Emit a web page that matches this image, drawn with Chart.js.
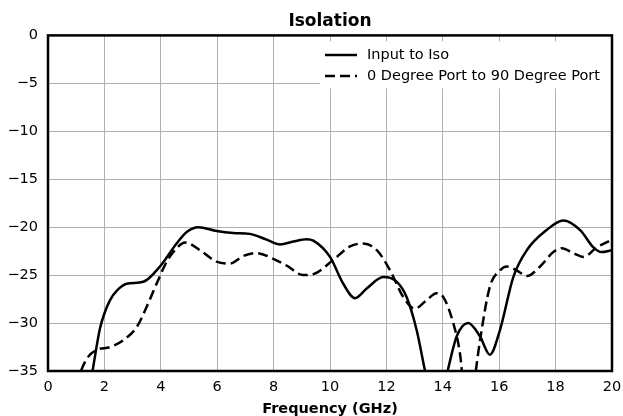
<!DOCTYPE html>
<html>
<head>
<meta charset="utf-8">
<script src="https://cdn.jsdelivr.net/npm/chart.js@4"></script>
<style>
  html, body { margin: 0; padding: 0; background: #fff; }
  #wrap { width: 623px; height: 416px; }
</style>
</head>
<body>
<div id="wrap"><canvas id="chart" width="623" height="416"></canvas></div>
<script>
const seriesNames = ["Input to Iso", "0 Degree Port to 90 Degree Port"];

// Input to Iso
const isoFreq = [1.35, 1.58, 1.84, 2.0, 2.2, 2.45, 2.79, 3.38, 3.97, 4.56, 4.92, 5.33, 5.98, 6.57, 7.16, 7.75, 8.23, 8.7, 9.17, 9.41, 10.0, 10.47, 10.89, 11.3, 11.89, 12.37, 12.72, 13.07, 13.37, 13.75, 14.17, 14.49, 14.9, 15.32, 15.67, 16.03, 16.5, 16.98, 17.68, 18.27, 18.87, 19.34, 19.63, 20.0];
const isoDb = [-39, -35, -30.6, -29.0, -27.6, -26.6, -25.9, -25.7, -24.1, -21.7, -20.5, -20.0, -20.4, -20.6, -20.7, -21.3, -21.8, -21.5, -21.25, -21.4, -23.1, -25.9, -27.4, -26.4, -25.2, -25.7, -27.3, -30.7, -35, -40, -35, -31.4, -30.0, -31.4, -33.3, -30.7, -25.2, -22.4, -20.3, -19.3, -20.3, -22.1, -22.6, -22.4];

// 0 Degree Port to 90 Degree Port
const portFreq = [0.9, 1.17, 1.43, 1.73, 2.2, 2.67, 3.15, 3.5, 3.85, 4.21, 4.56, 4.86, 5.39, 5.98, 6.45, 6.93, 7.4, 7.99, 8.46, 9.05, 9.41, 10.12, 10.71, 11.18, 11.66, 12.13, 12.6, 13.01, 13.43, 13.78, 14.02, 14.37, 14.61, 14.9, 15.17, 15.32, 15.67, 16.03, 16.27, 16.62, 16.98, 17.45, 17.92, 18.22, 18.63, 18.99, 19.46, 20.0];
const portDb = [-38, -35, -33.5, -32.8, -32.5, -31.8, -30.4, -28.3, -25.9, -23.6, -22.2, -21.6, -22.4, -23.6, -23.8, -23.0, -22.7, -23.3, -24.0, -25.0, -24.9, -23.4, -22.0, -21.7, -22.4, -24.5, -27.3, -28.5, -27.6, -26.9, -27.3, -30.0, -33.2, -41, -35, -31.8, -26.2, -24.5, -24.1, -24.5, -25.1, -24.1, -22.6, -22.2, -22.7, -23.1, -22.1, -21.3];

const xTicks = [0, 2, 4, 6, 8, 10, 12, 14, 16, 18, 20];
const yTicks = [0, -5, -10, -15, -20, -25, -30, -35];

const FONT = "'DejaVu Sans', sans-serif";

function toPoints(xs, ys) {
  return xs.map((x, i) => ({ x: x, y: ys[i] }));
}

// legend drawn inside the plot, top right
const insideLegend = {
  id: "insideLegend",
  afterDatasetsDraw(chart) {
    const ctx = chart.ctx;
    const area = chart.chartArea;
    ctx.save();
    ctx.fillStyle = "#fff";
    ctx.fillRect(320, area.top + 6, area.right - 320, 47);
    ctx.font = "14.5px " + FONT;
    ctx.textBaseline = "middle";
    chart.data.datasets.forEach((ds, i) => {
      const y = 55 + i * 21;
      ctx.strokeStyle = "#000";
      ctx.lineWidth = 2.5;
      ctx.setLineDash(ds.borderDash || []);
      ctx.beginPath();
      ctx.moveTo(325, y);
      ctx.lineTo(357, y);
      ctx.stroke();
      ctx.setLineDash([]);
      ctx.fillStyle = "#000";
      ctx.fillText(ds.label, 367, y);
    });
    ctx.restore();
  }
};

const frame = {
  id: "frame",
  afterDraw(chart) {
    const ctx = chart.ctx;
    const a = chart.chartArea;
    ctx.save();
    ctx.strokeStyle = "#000";
    ctx.lineWidth = 2.5;
    ctx.strokeRect(a.left, a.top, a.right - a.left, a.bottom - a.top);
    ctx.restore();
  }
};

new Chart(document.getElementById("chart"), {
  type: "line",
  data: {
    datasets: [
      {
        label: seriesNames[0],
        data: toPoints(isoFreq, isoDb),
        borderColor: "#000",
        borderWidth: 2.5,
        pointRadius: 0,
        cubicInterpolationMode: "monotone",
        clip: 0
      },
      {
        label: seriesNames[1],
        data: toPoints(portFreq, portDb),
        borderColor: "#000",
        borderWidth: 2.5,
        borderDash: [10, 5],
        pointRadius: 0,
        cubicInterpolationMode: "monotone",
        clip: 0
      }
    ]
  },
  options: {
    responsive: false,
    animation: false,
    layout: { padding: { left: 0, right: 11, top: 0, bottom: 0 } },
    plugins: {
      legend: { display: false },
      tooltip: { enabled: false },
      title: {
        display: true,
        text: "Isolation",
        fullSize: false,
        color: "#000",
        font: { family: FONT, size: 17, weight: "bold" },
        padding: { top: 11, bottom: 4 }
      }
    },
    scales: {
      x: {
        type: "linear",
        min: 0,
        max: 20,
        afterFit(scale) {
          scale.height = 45;
          scale.paddingLeft = 0;
          scale.paddingRight = 0;
        },
        afterBuildTicks(scale) { scale.ticks = xTicks.map(v => ({ value: v })); },
        grid: { color: "#b0b0b0", lineWidth: 1, drawTicks: false },
        border: { display: false },
        ticks: { color: "#000", padding: 8, maxRotation: 0, font: { family: FONT, size: 14.5 } },
        title: {
          display: true,
          text: "Frequency (GHz)",
          color: "#000",
          padding: { top: 0, bottom: -2 },
          font: { family: FONT, size: 14.5, weight: "bold" }
        }
      },
      y: {
        min: -35,
        max: 0,
        afterFit(scale) { scale.width = 48; },
        afterBuildTicks(scale) { scale.ticks = yTicks.map(v => ({ value: v })); },
        grid: { color: "#b0b0b0", lineWidth: 1, drawTicks: false },
        border: { display: false },
        ticks: {
          color: "#000",
          padding: 10,
          font: { family: FONT, size: 14.5 },
          callback: v => String(v).replace("-", "\u2212")
        }
      }
    }
  },
  plugins: [insideLegend, frame]
});
</script>
</body>
</html>
